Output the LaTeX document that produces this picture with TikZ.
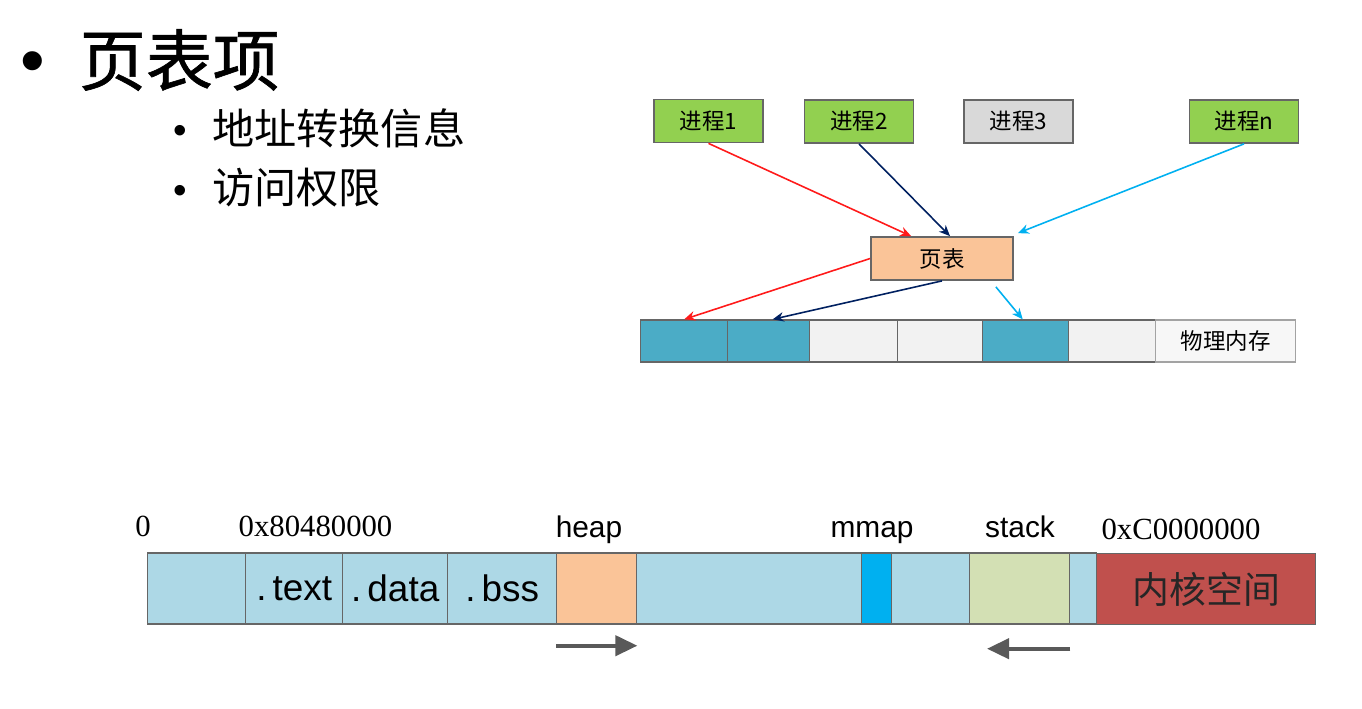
\documentclass[tikz,border=0pt]{standalone}
\usepackage{fontspec}
\setmainfont{Liberation Sans}
\newfontfamily\cjk{Noto Sans CJK SC}
\newfontfamily\cjktitle[FakeBold=1]{Noto Sans CJK SC}
\newfontfamily\hexfont{Liberation Serif}
\usetikzlibrary{arrows.meta,calc}

\definecolor{procgreen}{HTML}{92D050}
\definecolor{procgray}{HTML}{D9D9D9}
\definecolor{ptpeach}{HTML}{FAC498}
\definecolor{memteal}{HTML}{4BACC6}
\definecolor{memlight}{HTML}{F2F2F2}
\definecolor{segblue}{HTML}{ADD8E6}
\definecolor{mmapblue}{HTML}{00B0F0}
\definecolor{stackgreen}{HTML}{D3E0B4}
\definecolor{kernelred}{HTML}{C0504D}
\definecolor{arrowred}{HTML}{FF1A1A}
\definecolor{arrownavy}{HTML}{002060}
\definecolor{arrowcyan}{HTML}{00B0F0}
\definecolor{boxgray}{HTML}{666666}
\definecolor{arrowgray}{HTML}{595959}

\begin{document}
\begin{tikzpicture}[x=0.02cm, y=-0.02cm, >={Stealth[length=2.2mm,width=1.9mm]},
  proc/.style={draw=boxgray, line width=1pt, minimum width=2.18cm, minimum height=0.86cm, inner sep=0pt, font=\cjk\fontsize{12.8}{14}\selectfont},
  cell/.style={draw=boxgray, line width=0.8pt, minimum height=0.84cm, inner sep=0pt, anchor=west},
  seg/.style={draw=boxgray, line width=0.8pt, minimum height=1.42cm, inner sep=0pt, anchor=west, font=\fontsize{21}{24}\selectfont},
  addr/.style={inner sep=0pt, anchor=base, font=\hexfont\fontsize{17.5}{20}\selectfont},
  tag/.style={inner sep=0pt, anchor=base, font=\fontsize{17}{20}\selectfont},
  growarrow/.style={draw=arrowgray, line width=2.3pt, -{Triangle[length=0.44cm,width=0.4cm]}}
]
\useasboundingbox (0,0) rectangle (1362,708);

%% bullet list
\node[font=\fontsize{40}{40}\selectfont] (b0) at (33,68) {•};
\node[anchor=west, font=\cjktitle\fontsize{38}{40}\selectfont] (title) at (73,60) {页表项};
\node[font=\fontsize{22}{22}\selectfont] (b1) at (180,134) {•};
\node[anchor=west, font=\cjk\fontsize{24}{26}\selectfont] (item1) at (206,128) {地址转换信息};
\node[font=\fontsize{22}{22}\selectfont] (b2) at (180,194) {•};
\node[anchor=west, font=\cjk\fontsize{24}{26}\selectfont] (item2) at (206,188) {访问权限};

%% processes and page table
\node[proc, fill=procgreen] (p1) at (708.5,121) {进程1};
\node[proc, fill=procgreen] (p2) at (859,121.5) {进程2};
\node[proc, fill=procgray] (p3) at (1018.5,121.5) {进程3};
\node[proc, fill=procgreen] (pn) at (1244,121.5) {进程n};
\node[proc, fill=ptpeach, minimum width=2.84cm] (pt) at (942,258.5) {页表};

%% physical memory
\foreach \a/\b/\c [count=\i] in {640/727/memteal, 727/809/memteal, 809/897/memlight, 897/982/memlight, 982/1068/memteal, 1068/1155/memlight}
{
    \node[cell, fill=\c, minimum width={(\b-\a)*0.02cm}] (m\i) at (\a,341) {};
}
\node[cell, draw=boxgray!60, fill=white!97!black, minimum width=2.8cm, font=\cjk\fontsize{12.8}{14}\selectfont] (mem) at (1155,341) {物理内存};

\draw[->, arrowred, line width=0.9pt] (p1.south) -- ($(pt.north west)+(41,0)$); %p1 to pt
\draw[->, arrownavy, line width=0.9pt] (p2.south) -- ($(pt.north)+(8,0)$); %p2 to pt
\draw[->, arrowcyan, line width=0.9pt] (pn.south) -- ($(pt.north east)+(4,-3)$); %pn to pt
\draw[->, arrowred, line width=0.9pt] (pt.west) -- (m1.north); %pt to m1
\draw[->, arrownavy, line width=0.9pt] (pt.south) -- ($(m2.north)+(4,0)$); %pt to m2
\draw[->, arrowcyan, line width=0.9pt] ($(pt.south east)+(-18,6)$) -- ($(m5.north)+(-3,0)$); %pt to m5

%% process address space
\foreach \a/\b/\c/\t [count=\i] in {147/245/segblue/{}, 245/342/segblue/.\,text, 342/447/segblue/.\,data, 447/556/segblue/.\,bss, 556/636/ptpeach/{}, 636/861/segblue/{}, 861/891/mmapblue/{}, 891/969/segblue/{}, 969/1069/stackgreen/{}, 1069/1096/segblue/{}}
{
    \node[seg, fill=\c, minimum width={(\b-\a)*0.02cm}] (s\i) at (\a,588.5) {\t};
}
\node[seg, fill=kernelred, minimum width=4.38cm, font=\cjk\fontsize{21}{24}\selectfont, text=black!85] (kernel) at (1096,589) {内核空间};

\node[addr] (a0) at (143,536) {0};
\node[addr] (a1) at (315.5,536) {0x80480000};
\node[tag] (lheap) at (589,537) {heap};
\node[tag] (lmmap) at (872,537) {mmap};
\node[tag] (lstack) at (1020,537) {stack};
\node[addr] (a2) at (1181,539) {0xC0000000};

\draw[growarrow] ($(s5.south west)+(0,21)$) -- ($(s5.south east)+(0,21)$); %heap grows up
\draw[growarrow] ($(s9.south east)+(0,24)$) -- ($(s9.south west)+(18,24)$); %stack grows down
\end{tikzpicture}
\end{document}
